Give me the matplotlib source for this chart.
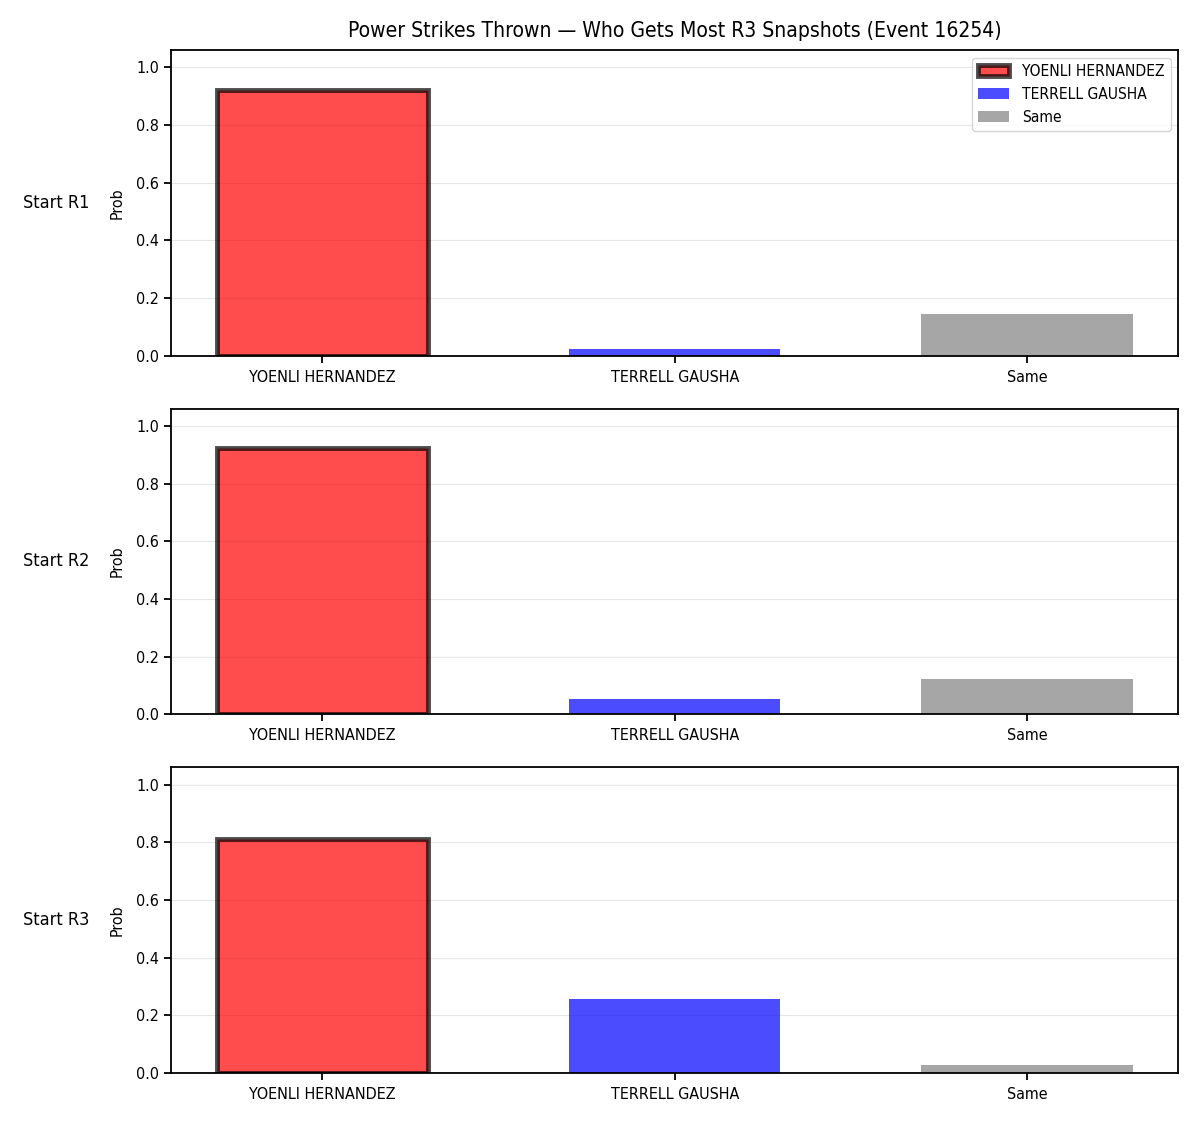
import matplotlib
matplotlib.use("Agg")
import matplotlib.pyplot as plt
import numpy as np

categories = ["YOENLI HERNANDEZ", "TERRELL GAUSHA", "Same"]
rows = ["Start R1", "Start R2", "Start R3"]
probs_r1 = [0.92, 0.023, 0.143]
probs_r2 = [0.924, 0.053, 0.122]
probs_r3 = [0.813, 0.257, 0.028]
colors = ["red", "blue", "gray"]

plt.rcParams["font.family"] = "DejaVu Sans"
plt.rcParams["font.stretch"] = "condensed"
plt.rcParams["font.size"] = 11.5
plt.rcParams["axes.linewidth"] = 1.3
plt.rcParams["xtick.major.width"] = 1.3
plt.rcParams["ytick.major.width"] = 1.3
plt.rcParams["xtick.major.size"] = 5
plt.rcParams["ytick.major.size"] = 5

fig, axes = plt.subplots(3, 1, figsize=(12, 11.25), dpi=100)
fig.subplots_adjust(left=0.1425, right=0.982, top=0.9556, bottom=0.0462, hspace=0.173)

x = np.arange(len(categories))
for ax, label, vals in zip(axes, rows, [probs_r1, probs_r2, probs_r3]):
    bars = ax.bar(x, vals, width=0.6, color=colors, alpha=0.7)
    # leader gets a thick outline
    bars[0].set_edgecolor("black")
    bars[0].set_linewidth(3.5)
    for b, c in zip(bars, categories):
        b.set_label(c)
    ax.set_xticks(x)
    ax.set_xticklabels(categories)
    ax.tick_params(axis="x", pad=5)
    ax.set_ylim(0, 1.06)
    ax.set_ylabel("Prob", labelpad=8)
    ax.grid(axis="y", alpha=0.3)
    ax.set_axisbelow(True)
    ax.text(-0.147, 0.5, label, transform=ax.transAxes, fontsize=13,
            ha="left", va="center")

axes[0].legend(loc="upper right", fontsize=11.2)
axes[0].set_title("Power Strikes Thrown \u2014 Who Gets Most R3 Snapshots (Event 16254)",
                  fontsize=15.1, pad=9)

fig.savefig("out.png", dpi=100)
